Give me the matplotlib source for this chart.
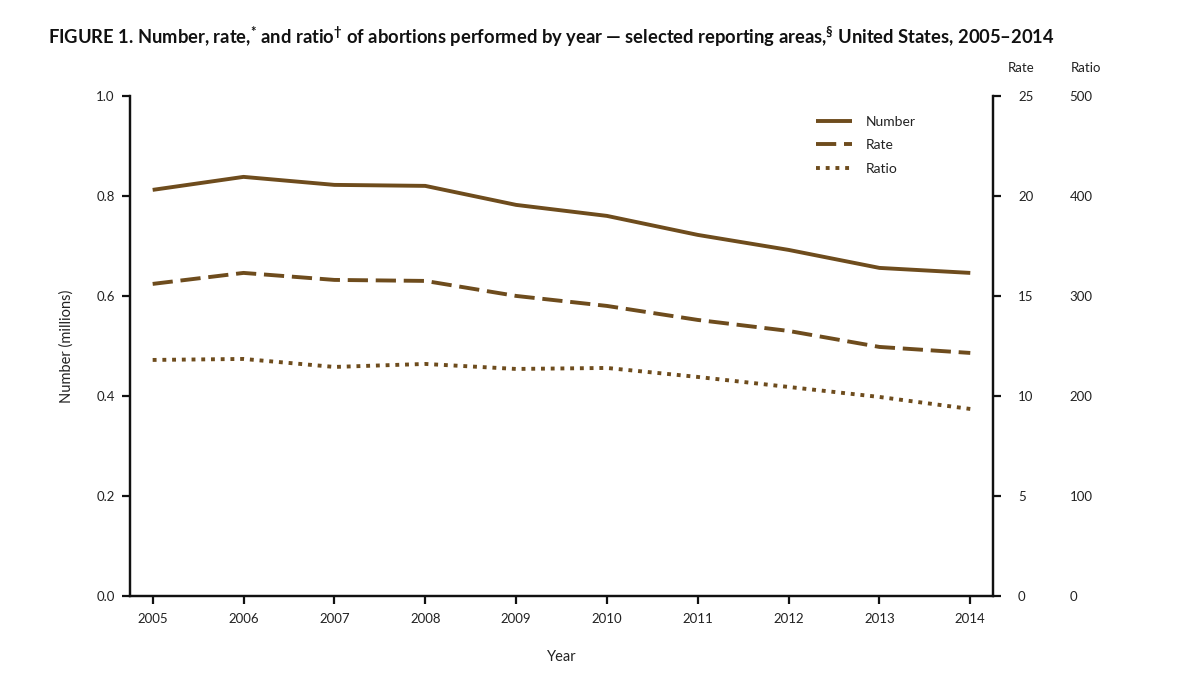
import matplotlib
matplotlib.use("Agg")
import matplotlib.pyplot as plt

plt.rcParams["font.family"] = ["Lato", "DejaVu Sans"]
plt.rcParams["mathtext.fontset"] = "custom"
plt.rcParams["mathtext.rm"] = "Lato"
plt.rcParams["mathtext.default"] = "regular"

# valores
years = [2005, 2006, 2007, 2008, 2009, 2010, 2011, 2012, 2013, 2014]
number_millions = [0.812, 0.838, 0.822, 0.820, 0.782, 0.760, 0.722, 0.692, 0.656, 0.646]
rate = [15.6, 16.15, 15.8, 15.75, 15.0, 14.5, 13.8, 13.25, 12.45, 12.15]
ratio = [236, 237, 229, 232, 227, 228, 219, 209, 199, 187]

left_ticks = [0.0, 0.2, 0.4, 0.6, 0.8, 1.0]
rate_ticks = [0, 5, 10, 15, 20, 25]
ratio_ticks = [0, 100, 200, 300, 400, 500]

brown = "#6e4c1d"
txt = "#222222"

fig = plt.figure(figsize=(12, 6.75), dpi=100)
ax = fig.add_axes([0.1083, 0.117, 0.7192, 0.741])
ax_rate = ax.twinx()
ax_ratio = ax.twinx()

l1, = ax.plot(years, number_millions, color=brown, lw=2.8, solid_capstyle="butt")
l2, = ax_rate.plot(years, rate, color=brown, lw=2.8, dashes=(5.2, 2.0))
l3, = ax_ratio.plot(years, ratio, color=brown, lw=2.8, dashes=(1.0, 1.5))

ax.set_xlim(2004.75, 2014.25)
ax.set_ylim(0, 1.0)
ax_rate.set_ylim(0, 25)
ax_ratio.set_ylim(0, 500)

ax.set_xticks(years)
ax.set_yticks(left_ticks)
ax.set_yticklabels([f"{v:.1f}" for v in left_ticks])
ax_rate.set_yticks(rate_ticks)
ax_ratio.set_yticks(ratio_ticks)

for a in [ax, ax_rate, ax_ratio]:
    a.spines["top"].set_visible(False)
for s in ["right", "left", "bottom"]:
    ax_ratio.spines[s].set_visible(False)
for a in [ax, ax_rate]:
    for sp in a.spines.values():
        sp.set_linewidth(1.6)
        sp.set_color("#111111")

ax.tick_params(axis="both", direction="out", length=6, width=1.6, color="#111111",
               labelsize=9.5, labelcolor=txt)
ax.tick_params(axis="y", pad=5)
ax.tick_params(axis="x", pad=6)
ax_rate.tick_params(axis="y", direction="out", length=6, width=1.6, color="#111111",
                    labelsize=9.5, labelcolor=txt, pad=12)
ax_ratio.tick_params(axis="y", length=0, labelsize=9.5, labelcolor=txt, pad=55)

ax.set_ylabel("Number (millions)", fontsize=10.5, color=txt, labelpad=16)
ax.set_xlabel("Year", fontsize=10.5, color=txt, labelpad=18)

fig.text(0.851, 0.893, "Rate", fontsize=9.5, color=txt, ha="center")
fig.text(0.905, 0.893, "Ratio", fontsize=9.5, color=txt, ha="center")

ax.legend([l1, l2, l3], ["Number", "Rate", "Ratio"], frameon=False,
          loc="upper left", bbox_to_anchor=(0.78, 0.985), fontsize=10,
          handlelength=2.6, labelspacing=0.82, handletextpad=1.0,
          labelcolor=txt)

fig.text(0.04, 0.945,
         r"FIGURE 1. Number, rate,$^{*}$ and ratio$^{\dagger}$ of abortions performed by year "
         r"— selected reporting areas,$^{\S}$ United States, 2005–2014",
         fontsize=13.2, fontweight="bold", color="#111111", ha="left", va="center")

fig.savefig("out.png", dpi=100)
